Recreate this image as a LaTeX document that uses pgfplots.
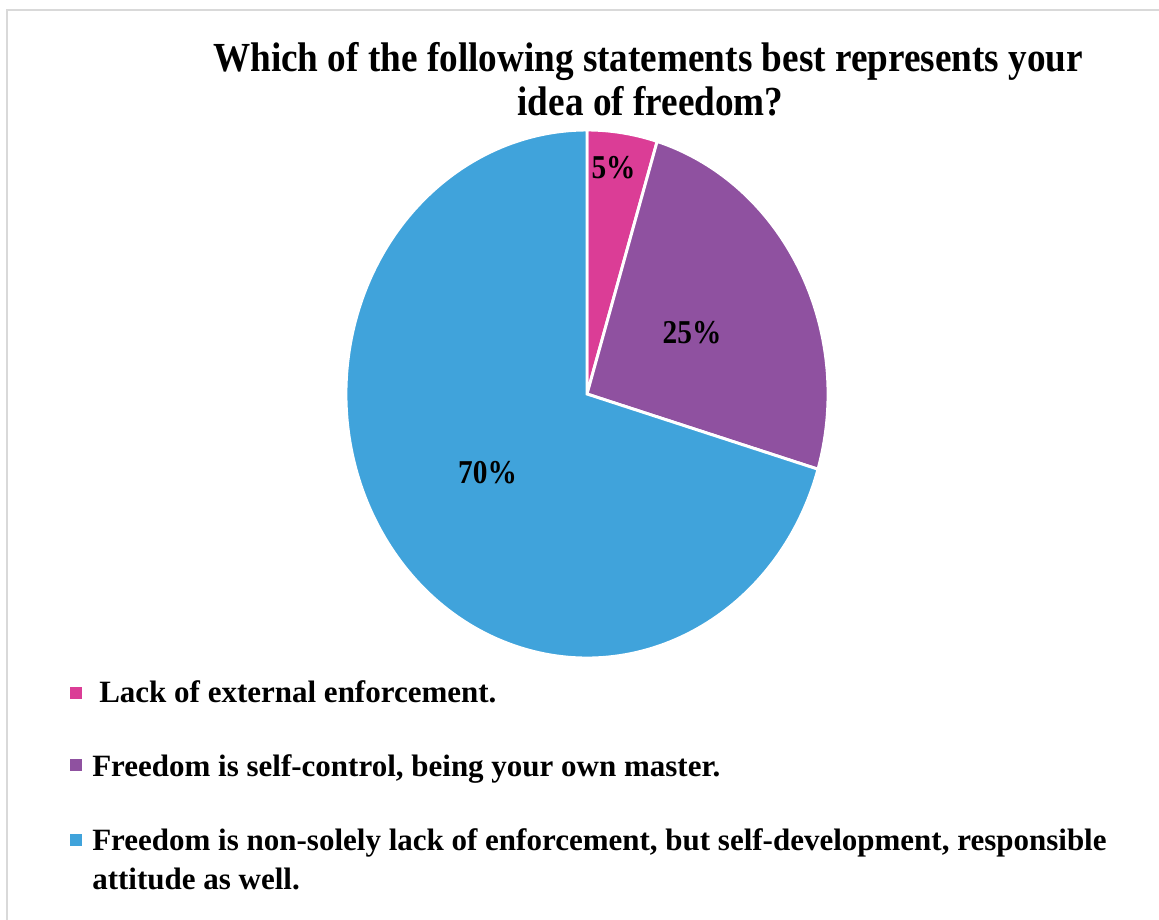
\documentclass[border=0pt]{standalone}
\usepackage{pgfplots}
\pgfplotsset{compat=1.18}
\usepackage{pgfplotstable}
\usepackage{fontspec}
\setmainfont{Liberation Serif}
\newfontfamily\titlefont[FakeStretch=0.9]{Liberation Serif}
\newfontfamily\labelfont[FakeStretch=0.88]{Liberation Serif}
\definecolor{pieA}{RGB}{219,61,150}
\definecolor{pieB}{RGB}{143,81,160}
\definecolor{pieC}{RGB}{64,163,219}
\definecolor{framegray}{RGB}{217,217,217}
\pgfplotstableread{
share label
4.7 5
24.9 25
70.4 70
}\piedata
\begin{document}%
\begin{tikzpicture}[x=0.75pt,y=0.75pt]
\pgfplotstablegetelem{0}{share}\of\piedata \let\vA\pgfplotsretval
\pgfplotstablegetelem{1}{share}\of\piedata \let\vB\pgfplotsretval
\pgfplotstablegetelem{2}{share}\of\piedata \let\vC\pgfplotsretval
\pgfplotstablegetelem{0}{label}\of\piedata \let\lA\pgfplotsretval
\pgfplotstablegetelem{1}{label}\of\piedata \let\lB\pgfplotsretval
\pgfplotstablegetelem{2}{label}\of\piedata \let\lC\pgfplotsretval
\pgfmathsetmacro\aA{90}
\pgfmathsetmacro\aB{\aA-3.6*\vA}
\pgfmathsetmacro\aC{\aB-3.6*\vB}
\pgfmathsetmacro\aD{\aC-3.6*\vC}
% frame
\draw[framegray, line width=1.5pt] (6.7,0) -- (6.7,909.5) -- (1159,909.5);
% title
\node[anchor=base, inner sep=0pt, font=\titlefont\fontsize{31pt}{36pt}\selectfont\bfseries] at (648,848) {Which of the following statements best represents your};
\node[anchor=base, inner sep=0pt, font=\titlefont\fontsize{31pt}{36pt}\selectfont\bfseries] at (650.5,804) {idea of freedom?};
\begin{axis}[
  at={(587,526)}, anchor=origin,
  x=0.75pt, y=0.75pt,
  xmin=-250, xmax=250, ymin=-270, ymax=270,
  hide axis, clip=false,
]
\fill[pieA, draw=white, line width=2.2pt] (axis cs:0,0) -- (axis cs:{241*cos(\aA)},{264*sin(\aA)}) arc[start angle=\aA, end angle=\aB, x radius=180.75pt, y radius=198pt] -- cycle;
\fill[pieB, draw=white, line width=2.2pt] (axis cs:0,0) -- (axis cs:{241*cos(\aB)},{264*sin(\aB)}) arc[start angle=\aB, end angle=\aC, x radius=180.75pt, y radius=198pt] -- cycle;
\fill[pieC, draw=white, line width=2.2pt] (axis cs:0,0) -- (axis cs:{241*cos(\aC)},{264*sin(\aC)}) arc[start angle=\aC, end angle=\aD, x radius=180.75pt, y radius=198pt] -- cycle;
\node[font=\labelfont\fontsize{25pt}{30pt}\selectfont\bfseries, inner sep=0pt] at (axis cs:26.5,226) {\lA\%};
\node[font=\labelfont\fontsize{25pt}{30pt}\selectfont\bfseries, inner sep=0pt] at (axis cs:105,61) {\lB\%};
\node[font=\labelfont\fontsize{25pt}{30pt}\selectfont\bfseries, inner sep=0pt] at (axis cs:-99.5,-79) {\lC\%};
\end{axis}
% legend
\fill[pieA] (70,221) rectangle (82,233);
\node[anchor=base west, inner sep=0pt, font=\fontsize{23.25pt}{28pt}\selectfont\bfseries] at (99,217) {Lack of external enforcement.};
\fill[pieB] (70,148.5) rectangle (82,160.5);
\node[anchor=base west, inner sep=0pt, font=\fontsize{23.25pt}{28pt}\selectfont\bfseries] at (92,143) {Freedom is self-control, being your own master.};
\fill[pieC] (70,73.5) rectangle (82,85.5);
\node[anchor=base west, inner sep=0pt, font=\fontsize{23.25pt}{28pt}\selectfont\bfseries] at (92,69) {Freedom is non-solely lack of enforcement, but self-development, responsible};
\node[anchor=base west, inner sep=0pt, font=\fontsize{23.25pt}{28pt}\selectfont\bfseries] at (92,30) {attitude as well.};
\pgfresetboundingbox
\path[use as bounding box] (0,0) rectangle (1159,920);
\end{tikzpicture}%
\end{document}
